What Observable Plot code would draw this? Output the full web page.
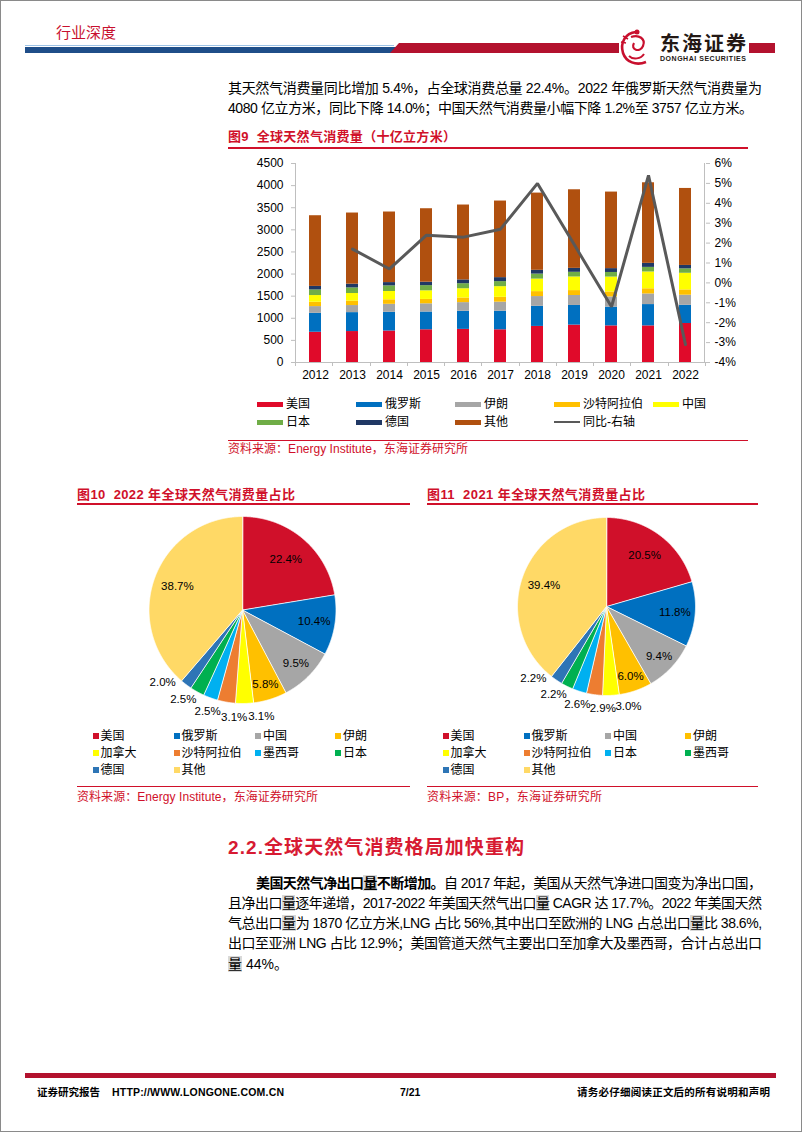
<!DOCTYPE html>
<html><head><meta charset="utf-8">
<script src="https://cdn.jsdelivr.net/npm/d3@7"></script>
<script src="https://cdn.jsdelivr.net/npm/@observablehq/plot@0.6"></script>
<style>
html,body{margin:0;padding:0;background:#fff;}
#page{position:relative;width:802px;height:1133px;overflow:hidden;font-family:"Liberation Sans","Noto Sans CJK SC",sans-serif;color:#000;}
.a{position:absolute;}
.fit{white-space:nowrap;display:inline-block;}
.red{color:#D0102A;}
.t13{font-size:13px;font-weight:bold;line-height:16px;}
.src{font-size:12px;line-height:14px;color:#D0102A;}
.body{font-size:14px;line-height:18px;}
.hl{background:#D9D9D9;}
.b{font-weight:bold;}
.leg{font-size:12px;line-height:14px;white-space:nowrap;}
</style></head>
<body><div id="page">
<div class="a" style="left:0;top:0;width:800px;height:1130px;border:1px solid #8a8a8a;"></div>

<!-- header -->
<div class="a" style="left:56px;top:24px;font-size:15px;line-height:18px;color:#C8102E;">行业深度</div>
<div class="a" style="left:25px;top:45px;width:369px;height:1px;background:#9DC3E6;"></div>
<div class="a" style="left:25px;top:47px;width:372px;height:6px;background:#1F4E89;"></div>
<div class="a" style="left:390px;top:43px;width:229px;height:10px;background:#B3122E;clip-path:polygon(9px 0,100% 0,100% 100%,0 100%);"></div>
<div class="a" style="left:749px;top:43px;width:26px;height:10px;background:#B3122E;"></div>
<svg class="a" style="left:617px;top:28px;" width="38" height="40" viewBox="0 0 38 40">
 <path d="M19 4 C8 5 3 15 6 25 C9 34 19 38 29 34" stroke="#C8102E" stroke-width="2.6" fill="none"/>
 <path d="M14 9 C22 6 29 11 26 18 C23 25 13 22 17 15" stroke="#C8102E" stroke-width="2.2" fill="none"/>
 <path d="M12 28 C16 32 24 31 27 26" stroke="#C8102E" stroke-width="2" fill="none"/>
 <circle cx="20" cy="4" r="2.5" fill="#C8102E"/>
 <path d="M6 8 L11 11 M4 14 L9 15" stroke="#C8102E" stroke-width="1.5"/>
</svg>
<div class="a" style="left:660px;top:33px;font-size:20px;line-height:22px;font-weight:bold;color:#231815;"><span class="fit" data-w="86">东海证券</span></div>
<div class="a" style="left:660px;top:55px;font-size:7px;line-height:8px;font-weight:bold;color:#231815;"><span class="fit" data-w="86">DONGHAI SECURITIES</span></div>

<!-- paragraph 1 -->
<div class="a body" style="left:228px;top:79px;"><span class="fit" data-w="534">其天然气消费量同比增加 5.4%，占全球消费总量 22.4%。2022 年俄罗斯天然气消费量为</span></div>
<div class="a body" style="left:228px;top:99px;"><span class="fit" data-w="525">4080 亿立方米，同比下降 14.0%；中国天然气消费量小幅下降 1.2%至 3757 亿立方米。</span></div>

<!-- figure 9 -->
<div class="a t13 red" style="left:228px;top:129px;"><span class="fit" data-w="228">图9&nbsp;&nbsp;全球天然气消费量（十亿立方米）</span></div>
<div class="a" style="left:228px;top:147px;width:520px;height:1.5px;background:#D0102A;"></div>
<div id="chart1" class="a" style="left:228px;top:150px;"></div>
<div id="legend1"></div>
<div class="a" style="left:228px;top:439.5px;width:520px;height:1px;background:#D0102A;"></div>
<div class="a src" style="left:228px;top:442px;"><span class="fit" data-w="240">资料来源：Energy Institute，东海证券研究所</span></div>

<!-- figure 10 -->
<div class="a t13 red" style="left:77px;top:487px;"><span class="fit" data-w="218">图10&nbsp;&nbsp;2022 年全球天然气消费量占比</span></div>
<div class="a" style="left:77px;top:503px;width:333px;height:1.5px;background:#D0102A;"></div>
<div id="pie10" class="a" style="left:78px;top:510px;"></div>
<div id="legend10"></div>
<div class="a" style="left:77px;top:786px;width:333px;height:1px;background:#D0102A;"></div>
<div class="a src" style="left:77px;top:790px;"><span class="fit" data-w="241">资料来源：Energy Institute，东海证券研究所</span></div>

<!-- figure 11 -->
<div class="a t13 red" style="left:427px;top:487px;"><span class="fit" data-w="218">图11&nbsp;&nbsp;2021 年全球天然气消费量占比</span></div>
<div class="a" style="left:427px;top:503px;width:331px;height:1.5px;background:#D0102A;"></div>
<div id="pie11" class="a" style="left:428px;top:510px;"></div>
<div id="legend11"></div>
<div class="a" style="left:427px;top:786px;width:331px;height:1px;background:#D0102A;"></div>
<div class="a src" style="left:427px;top:790px;"><span class="fit" data-w="175">资料来源：BP，东海证券研究所</span></div>

<!-- section 2.2 -->
<div class="a" style="left:228px;top:836px;font-size:19px;line-height:24px;font-weight:bold;color:#D71A32;"><span class="fit" data-w="296">2.2.全球天然气消费格局加快重构</span></div>
<div class="a body" style="left:256px;top:874px;"><span class="fit" data-w="506"><span class="b">美国天然气净出口<span class="hl">量</span>不断增加。</span>自 2017 年起，美国从天然气净进口国变为净出口国，</span></div>
<div class="a body" style="left:228px;top:894px;"><span class="fit" data-w="534">且净出口<span class="hl">量</span>逐年递增，2017-2022 年美国天然气出口<span class="hl">量</span> CAGR 达 17.7%。2022 年美国天然</span></div>
<div class="a body" style="left:228px;top:914px;"><span class="fit" data-w="534">气总出口<span class="hl">量</span>为 1870 亿立方米,LNG 占比 56%,其中出口至欧洲的 LNG 占总出口<span class="hl">量</span>比 38.6%,</span></div>
<div class="a body" style="left:228px;top:934px;"><span class="fit" data-w="534">出口至亚洲 LNG 占比 12.9%；美国管道天然气主要出口至加拿大及墨西哥，合计占总出口</span></div>
<div class="a body" style="left:228px;top:955px;"><span class="hl">量</span> 44%。</div>

<!-- footer -->
<div class="a" style="left:25px;top:1073px;width:751px;height:5px;background:#B3122E;"></div>
<div class="a" style="left:37px;top:1085px;font-size:10.5px;line-height:14px;font-weight:bold;"><span class="fit" data-w="63">证券研究报告</span></div>
<div class="a" style="left:112px;top:1085px;font-size:10.5px;line-height:14px;font-weight:bold;"><span class="fit" data-w="172">HTTP://WWW.LONGONE.COM.CN</span></div>
<div class="a" style="left:400px;top:1085px;font-size:10.5px;line-height:14px;font-weight:bold;">7/21</div>
<div class="a" style="left:577px;top:1085px;font-size:10.5px;line-height:14px;font-weight:bold;"><span class="fit" data-w="193">请务必仔细阅读正文后的所有说明和声明</span></div>
</div>

<script>
// ---------- Figure 9 data ----------
const years = ["2012","2013","2014","2015","2016","2017","2018","2019","2020","2021","2022"];
const seriesNames = ["美国","俄罗斯","伊朗","沙特阿拉伯","中国","日本","德国","其他"];
const seriesColors = ["#E00A2A","#0070C0","#A6A6A6","#FFC000","#FFFF00","#70AD47","#203864","#B0500F"];
const usa     = [684, 700, 712, 740, 749, 740, 816, 846, 828, 828, 882];
const russia  = [429, 428, 424, 402, 410, 420, 455, 444, 423, 482, 412];
const iran    = [151, 160, 180, 185, 195, 205, 220, 225, 232, 240, 228];
const saudi   = [ 99, 100, 102,  99, 105, 109, 112, 111, 113, 117, 120];
const china   = [151, 172, 188, 195, 209, 241, 283, 308, 336, 380, 376];
const japan   = [127, 127, 127, 117, 114, 114, 113, 106, 104, 104, 100];
const germany = [ 80,  84,  74,  78,  86,  90,  86,  89,  87,  91,  77];
const others  = [1598,1609,1596,1661,1693,1732,1746,1777,1731,1822,1741];
const yoy     = [null, 1.7, 0.7, 2.4, 2.3, 2.7, 5.0, 1.9, -1.2, 5.4, -3.1];
const leftTicks = [0,500,1000,1500,2000,2500,3000,3500,4000,4500];
const rightTicks = [-4,-3,-2,-1,0,1,2,3,4,5,6];
const legend1Names = ["美国","俄罗斯","伊朗","沙特阿拉伯","中国","日本","德国","其他","同比-右轴"];

// ---------- Figure 10 / 11 data ----------
const pieColors = ["#D0102A","#0070C0","#A6A6A6","#FFC000","#FFFF00","#ED7D31","#00B0F0","#00B050","#2E75B6","#FFD966"];
const names2022 = ["美国","俄罗斯","中国","伊朗","加拿大","沙特阿拉伯","墨西哥","日本","德国","其他"];
const share2022 = [22.4, 10.4, 9.5, 5.8, 3.1, 3.1, 2.5, 2.5, 2.0, 38.7];
const names2021 = ["美国","俄罗斯","中国","伊朗","加拿大","沙特阿拉伯","日本","墨西哥","德国","其他"];
const share2021 = [20.5, 11.8, 9.4, 6.0, 3.0, 2.9, 2.6, 2.2, 2.2, 39.4];

const FONT = '"Liberation Sans","Noto Sans CJK SC",sans-serif';

// ---------- bar + line chart ----------
const seriesValues = [usa, russia, iran, saudi, china, japan, germany, others];
const rows = [];
years.forEach((yr, i) => seriesNames.forEach((s, j) => rows.push({year: yr, series: s, value: seriesValues[j][i]})));
const yoyRows = years.map((yr, i) => ({year: yr, v: yoy[i]})).filter(d => d.v != null);
const rMin = rightTicks[0], rMax = rightTicks[rightTicks.length - 1];
const k = leftTicks[leftTicks.length - 1] / (rMax - rMin);
const toLeft = v => (v - rMin) * k;

function axisFrame(index, scales, values, dims) {
  const {width, height, marginLeft: ml, marginRight: mr, marginTop: mt, marginBottom: mb} = dims;
  const ns = "http://www.w3.org/2000/svg";
  const g = document.createElementNS(ns, "g");
  g.setAttribute("stroke", "#BFBFBF");
  const add = (x1, y1, x2, y2) => {
    const l = document.createElementNS(ns, "line");
    l.setAttribute("x1", x1); l.setAttribute("y1", y1); l.setAttribute("x2", x2); l.setAttribute("y2", y2);
    g.appendChild(l);
  };
  add(ml + 0.5, mt, ml + 0.5, height - mb);
  add(width - mr - 0.5, mt, width - mr - 0.5, height - mb);
  const step = (width - ml - mr) / years.length;
  for (let i = 0; i <= years.length; i++) {
    const x = Math.round(ml + i * step) + 0.5;
    add(x, height - mb, x, height - mb + 4);
  }
  return g;
}

const chart1 = Plot.plot({
  width: 520, height: 235,
  marginTop: 13, marginBottom: 23, marginLeft: 67, marginRight: 43,
  style: {fontFamily: FONT, fontSize: "12px", color: "#000", background: "none", overflow: "visible"},
  x: {type: "band", domain: years, paddingInner: 0.68, paddingOuter: 0.34, label: null},
  y: {domain: [0, leftTicks[leftTicks.length - 1]], label: null},
  color: {domain: seriesNames, range: seriesColors},
  marks: [
    Plot.barY(rows, {x: "year", y: "value", fill: "series"}),
    Plot.ruleY([0], {stroke: "#BFBFBF"}),
    axisFrame,
    Plot.line(yoyRows, {x: "year", y: d => toLeft(d.v), stroke: "#595959", strokeWidth: 3, strokeLinejoin: "miter"}),
    Plot.axisY({anchor: "left", ticks: leftTicks, tickFormat: d => String(d), tickSize: 4, tickPadding: 8, stroke: "#BFBFBF", fill: "#000", label: null, fontSize: 12}),
    Plot.axisY({anchor: "right", ticks: rightTicks.map(toLeft), tickFormat: d => `${Math.round(d / k + rMin)}%`, tickSize: 4, tickPadding: 5, stroke: "#BFBFBF", fill: "#000", label: null, fontSize: 12}),
    Plot.axisX({tickSize: 0, tickPadding: 8, fill: "#000", label: null, fontSize: 12})
  ]
});
document.getElementById("chart1").appendChild(chart1);

// legend for chart 1
(function () {
  const host = document.getElementById("legend1");
  legend1Names.forEach((name, i) => {
    const col = i % 5, row = Math.floor(i / 5);
    const x = 257 + col * 99, y = 404.5 + row * 17.5;
    const isLine = i === legend1Names.length - 1;
    const sw = document.createElement("div");
    sw.className = "a";
    sw.style.cssText = isLine
      ? `left:${x}px;top:${y - 1}px;width:26px;height:2px;background:#595959;`
      : `left:${x}px;top:${y - 2.5}px;width:26px;height:5px;background:${seriesColors[i]};`;
    host.appendChild(sw);
    const t = document.createElement("div");
    t.className = "a leg";
    t.style.cssText = `left:${x + 29}px;top:${y - 7.5}px;`;
    t.textContent = name;
    host.appendChild(t);
  });
})();

// ---------- pies ----------
function pieChart(values, names, colors, W, H, cx, cy, r) {
  const total = d3.sum(values);
  let acc = 0;
  const feats = [], inner = [], outer = [];
  values.forEach((v, i) => {
    const a0 = acc / total * 2 * Math.PI; acc += v; const a1 = acc / total * 2 * Math.PI;
    const n = Math.max(2, Math.ceil((a1 - a0) / 0.004));
    const ring = [[cx, cy]];
    for (let j = 0; j <= n; j++) {
      const a = a0 + (a1 - a0) * j / n;
      ring.push([cx + r * Math.sin(a), cy - r * Math.cos(a)]);
    }
    ring.push([cx, cy]);
    feats.push({type: "Feature", properties: {name: names[i], value: v}, geometry: {type: "Polygon", coordinates: [ring]}});
    const am = (a0 + a1) / 2;
    if (v >= 5) inner.push({a: am, rr: r * (0.70 + 0.13 * (1 - Math.cos(am)) / 2), text: v.toFixed(1) + "%"});
    else outer.push({a: am, rr: r * 1.15, text: v.toFixed(1) + "%"});
  });
  // spread the small outside labels apart in angle so they do not collide
  const sep = 14.5 * Math.PI / 180;
  for (let it = 0; it < 300; it++) {
    for (let i = 1; i < outer.length; i++) {
      const d = outer[i].a - outer[i - 1].a;
      if (d < sep) { const s = (sep - d) / 2; outer[i - 1].a -= s; outer[i].a += s; }
    }
  }
  const labels = inner.concat(outer).map(l => ({x: cx + l.rr * Math.sin(l.a), y: cy - l.rr * Math.cos(l.a), text: l.text}));
  return Plot.plot({
    width: W, height: H, margin: 0, inset: 0,
    style: {fontFamily: FONT, fontSize: "11px", color: "#000", background: "none", overflow: "visible"},
    projection: {type: "identity", domain: {type: "MultiPoint", coordinates: [[0, 0], [W, H]]}},
    color: {domain: names, range: colors},
    marks: [
      Plot.geo(feats, {fill: d => d.properties.name, stroke: "#fff", strokeWidth: 0.8}),
      Plot.text(labels, {x: "x", y: "y", text: "text", fill: "#000", fontSize: 11.5})
    ]
  });
}
document.getElementById("pie10").appendChild(pieChart(share2022, names2022, pieColors, 332, 225, 164, 99.5, 93.5));
document.getElementById("pie11").appendChild(pieChart(share2021, names2021, pieColors, 330, 225, 178, 96, 89));

function pieLegend(hostId, names, colors, left) {
  const host = document.getElementById(hostId);
  const cols = [15.5, 96.5, 178, 258];
  names.forEach((name, i) => {
    const col = i % 4, row = Math.floor(i / 4);
    const x = left + cols[col], y = 736 + row * 17;
    const sq = document.createElement("div");
    sq.className = "a";
    sq.style.cssText = `left:${x}px;top:${y - 3}px;width:6px;height:6px;background:${colors[i]};`;
    host.appendChild(sq);
    const t = document.createElement("div");
    t.className = "a leg";
    t.style.cssText = `left:${x + 8}px;top:${y - 7.5}px;`;
    t.textContent = name;
    host.appendChild(t);
  });
}
pieLegend("legend10", names2022, pieColors, 77);
pieLegend("legend11", names2021, pieColors, 427);

// ---------- fit text lines to measured widths ----------
document.querySelectorAll(".fit").forEach(el => {
  const target = parseFloat(el.dataset.w);
  el.style.letterSpacing = "0px";
  const w = el.getBoundingClientRect().width;
  const n = [...el.textContent].length;
  if (n > 1) el.style.letterSpacing = ((target - w) / (n - 1)) + "px";
});
</script>
</body></html>
